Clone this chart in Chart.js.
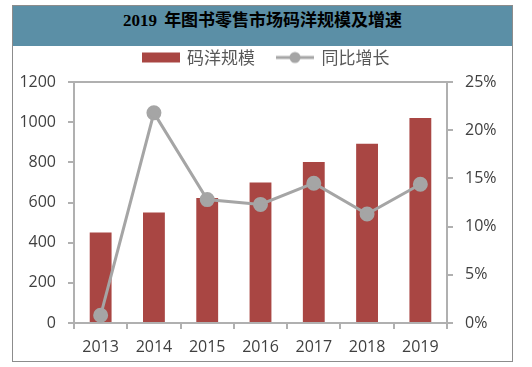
<!DOCTYPE html>
<html>
<head>
<meta charset="utf-8">
<script src="https://cdn.jsdelivr.net/npm/chart.js@4"></script>
<style>
  body { margin: 0; background: #fff; }
  #frame {
    position: absolute; left: 12px; top: 5px; width: 499px; height: 355px;
    border: 1px solid #8c8c8c; background: #fff;
  }
  #title {
    position: absolute; left: 0; top: 0; width: 499px; height: 40px;
    background: #5b8fa6; color: #000; text-align: center; line-height: 40px;
    font: bold 17px "Liberation Serif", "Noto Sans CJK SC", serif;
    word-spacing: 3px;
  }
  #wrap { position: absolute; left: 0; top: 0; width: 532px; height: 367px; }
</style>
</head>
<body>
<div id="frame"><div id="title">2019 年图书零售市场码洋规模及增速</div></div>
<div id="wrap"><canvas id="chart" width="532" height="367"></canvas></div>
<script>
const years = ["2013", "2014", "2015", "2016", "2017", "2018", "2019"];
const scaleValues = [451, 550, 622, 700, 802, 893, 1021];
const growthValues = [0.8, 21.8, 12.8, 12.3, 14.5, 11.3, 14.4];
const leftTicks = [0, 200, 400, 600, 800, 1000, 1200];
const rightTicks = [0, 5, 10, 15, 20, 25];

const barColor = "#a94643";
const lineColor = "#a5a5a5";
const axisColor = "#b0b0b0";
const textColor = "#404040";

// legend icons
const makeIcon = (draw) => {
  const c = document.createElement("canvas");
  c.width = 38;
  c.height = 14;
  draw(c.getContext("2d"));
  return c;
};
const barIcon = makeIcon((ctx) => {
  ctx.fillStyle = barColor;
  ctx.fillRect(0, 2, 38, 10);
});
const lineIcon = makeIcon((ctx) => {
  ctx.strokeStyle = lineColor;
  ctx.lineWidth = 3;
  ctx.beginPath();
  ctx.moveTo(0, 7);
  ctx.lineTo(38, 7);
  ctx.stroke();
  ctx.fillStyle = lineColor;
  ctx.beginPath();
  ctx.arc(19, 7, 5.5, 0, Math.PI * 2);
  ctx.fill();
});

const topBorder = {
  id: "topBorder",
  afterDraw(chart) {
    const { ctx, chartArea } = chart;
    ctx.save();
    ctx.strokeStyle = axisColor;
    ctx.lineWidth = 2;
    ctx.beginPath();
    ctx.moveTo(chartArea.left - 6, chartArea.top);
    ctx.lineTo(chartArea.right + 6, chartArea.top);
    ctx.stroke();
    ctx.restore();
  },
};

const legendHeight = {
  id: "legendHeight",
  beforeInit(chart) {
    const fit = chart.legend.fit;
    chart.legend.fit = function () {
      fit.bind(chart.legend)();
      this.height = 55;
    };
  },
};

const tickFont = { family: "'Open Sans', sans-serif", size: 16 };

new Chart(document.querySelector("#chart").getContext("2d"), {
  type: "bar",
  data: {
    labels: years,
    datasets: [
      {
        label: "同比增长",
        type: "line",
        data: growthValues,
        yAxisID: "y1",
        borderColor: lineColor,
        backgroundColor: lineColor,
        borderWidth: 3,
        pointRadius: 6,
        pointHoverRadius: 6,
        pointStyle: "circle",
        order: 0,
      },
      {
        label: "码洋规模",
        data: scaleValues,
        yAxisID: "y",
        backgroundColor: barColor,
        barPercentage: 0.41,
        categoryPercentage: 1,
        order: 1,
      },
    ],
  },
  options: {
    responsive: false,
    animation: false,
    layout: { padding: { top: 27, left: 0, right: 0, bottom: 7 } },
    plugins: {
      tooltip: { enabled: false },
      legend: {
        display: true,
        reverse: true,
        labels: {
          usePointStyle: true,
          pointStyleWidth: 36,
          padding: 22,
          color: "#595959",
          font: { family: "'Noto Sans CJK SC', sans-serif", size: 17 },
          generateLabels(chart) {
            return chart.data.datasets.map((ds, i) => ({
              text: ds.label,
              pointStyle: i === 0 ? lineIcon : barIcon,
              fillStyle: "transparent",
              strokeStyle: "transparent",
              lineWidth: 0,
              datasetIndex: i,
              fontColor: "#595959",
            }));
          },
        },
      },
    },
    scales: {
      x: {
        grid: {
          offset: true,
          drawOnChartArea: false,
          tickLength: 6,
          color: axisColor,
          lineWidth: 2,
        },
        border: { color: axisColor, width: 2 },
        ticks: { color: textColor, font: tickFont, padding: 9 },
        afterFit(scale) { scale.height = 37; },
      },
      y: {
        position: "left",
        min: 0,
        max: 1200,
        afterBuildTicks(scale) { scale.ticks = leftTicks.map((v) => ({ value: v })); },
        grid: { drawOnChartArea: false, tickLength: 6, color: axisColor, lineWidth: 2 },
        border: { color: axisColor, width: 2 },
        ticks: { color: textColor, font: tickFont, padding: 12, callback: (v) => String(v) },
        afterFit(scale) { scale.width = 74; },
      },
      y1: {
        position: "right",
        min: 0,
        max: 25,
        afterBuildTicks(scale) { scale.ticks = rightTicks.map((v) => ({ value: v })); },
        grid: { drawOnChartArea: false, tickLength: 6, color: axisColor, lineWidth: 2 },
        border: { color: axisColor, width: 2 },
        ticks: { color: textColor, font: tickFont, padding: 12, callback: (v) => v + "%" },
        afterFit(scale) { scale.width = 85; },
      },
    },
  },
  plugins: [topBorder, legendHeight],
});
</script>
</body>
</html>
